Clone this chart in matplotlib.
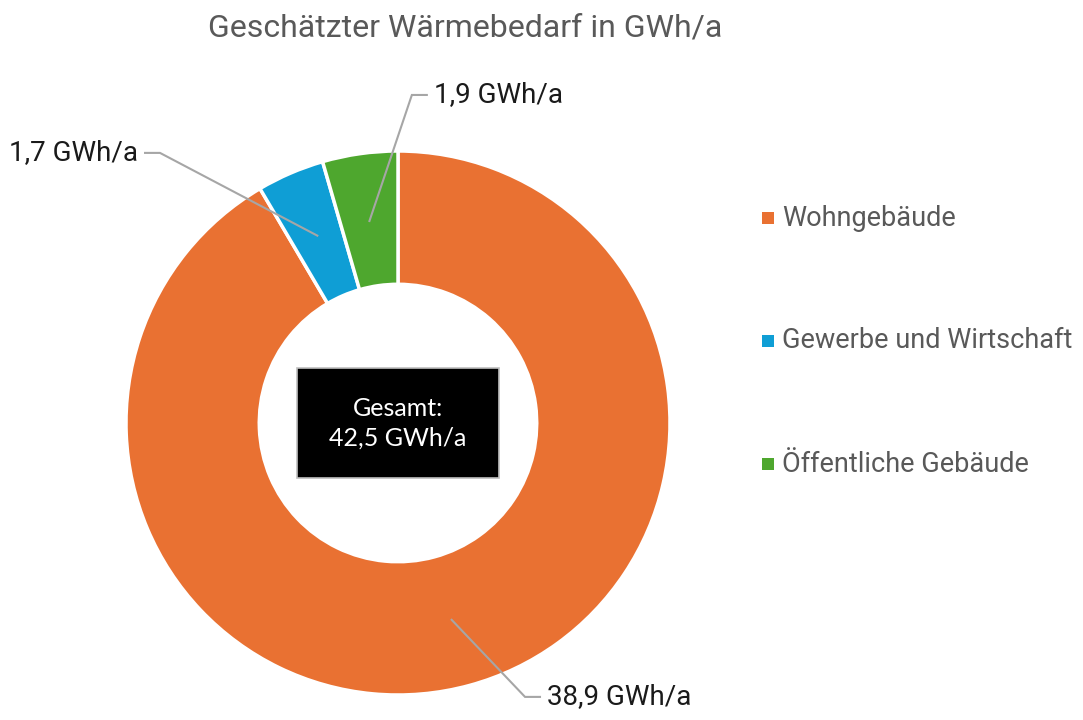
import matplotlib
matplotlib.use("Agg")
import matplotlib.pyplot as plt
from matplotlib.patches import Rectangle
import numpy as np

# Data
categories = ["Wohngebäude", "Gewerbe und Wirtschaft", "Öffentliche Gebäude"]
values = [38.9, 1.7, 1.9]
colors = ["#E97132", "#0F9ED5", "#4EA72E"]
title = "Geschätzter Wärmebedarf in GWh/a"

# label layout: elbow point and side of the text (data units, radius = 1)
label_elbows = [(0.467, -1.007), (-0.875, 0.993), (0.051, 1.206)]
label_sides = [1, -1, 1]

plt.rcParams['font.family'] = ['Roboto', 'DejaVu Sans']

fig = plt.figure(figsize=(10.83, 7.2), dpi=100)
ax = fig.add_axes([126 / 1083, 25 / 720, 544 / 1083, 544 / 720])

wedges, _ = ax.pie(values, colors=colors, startangle=90, counterclock=False,
                   radius=1, wedgeprops=dict(width=0.49, edgecolor='white', linewidth=2.5))
ax.set_xlim(-1, 1)
ax.set_ylim(-1, 1)
ax.set_aspect('equal')
ax.axis('off')

# data labels with leader lines
for w, v, (ex, ey), side in zip(wedges, values, label_elbows, label_sides):
    ang = np.deg2rad((w.theta1 + w.theta2) / 2)
    px, py = 0.75 * np.cos(ang), 0.75 * np.sin(ang)
    hx = ex + side * 0.055
    ax.plot([px, ex, hx], [py, ey, ey], color='#A6A6A6', lw=1.5, clip_on=False,
            solid_joinstyle='miter')
    txt = f"{v:.1f}".replace('.', ',') + " GWh/a"
    ax.text(hx + side * 0.025, ey, txt, ha='left' if side > 0 else 'right', va='center',
            fontsize=20, color='#1a1a1a', clip_on=False)

# center total box
total = sum(values)
ax.add_patch(Rectangle((-0.373, -0.204), 0.746, 0.408, facecolor='black',
                       edgecolor='#BFBFBF', lw=1.2, zorder=5))
ax.text(0, 0, "Gesamt:\n" + f"{total:.1f}".replace('.', ',') + " GWh/a",
        ha='center', va='center', color='white', fontsize=18, family=['Lato', 'DejaVu Sans'],
        linespacing=1.35, zorder=6)

# title
fig.text(465 / 1083, 1 - 28 / 720, title, ha='center', va='center', fontsize=23, color='#595959')

# legend
legend_y = [218, 341, 464]
for cat, col, y in zip(categories, colors, legend_y):
    fig.patches.append(Rectangle((762 / 1083, 1 - (y + 6) / 720), 12 / 1083, 12 / 720,
                                 facecolor=col, edgecolor='none', transform=fig.transFigure))
    fig.text(782 / 1083, 1 - y / 720, cat, ha='left', va='center', fontsize=19.5, color='#595959')

fig.savefig("out.png", dpi=100)
